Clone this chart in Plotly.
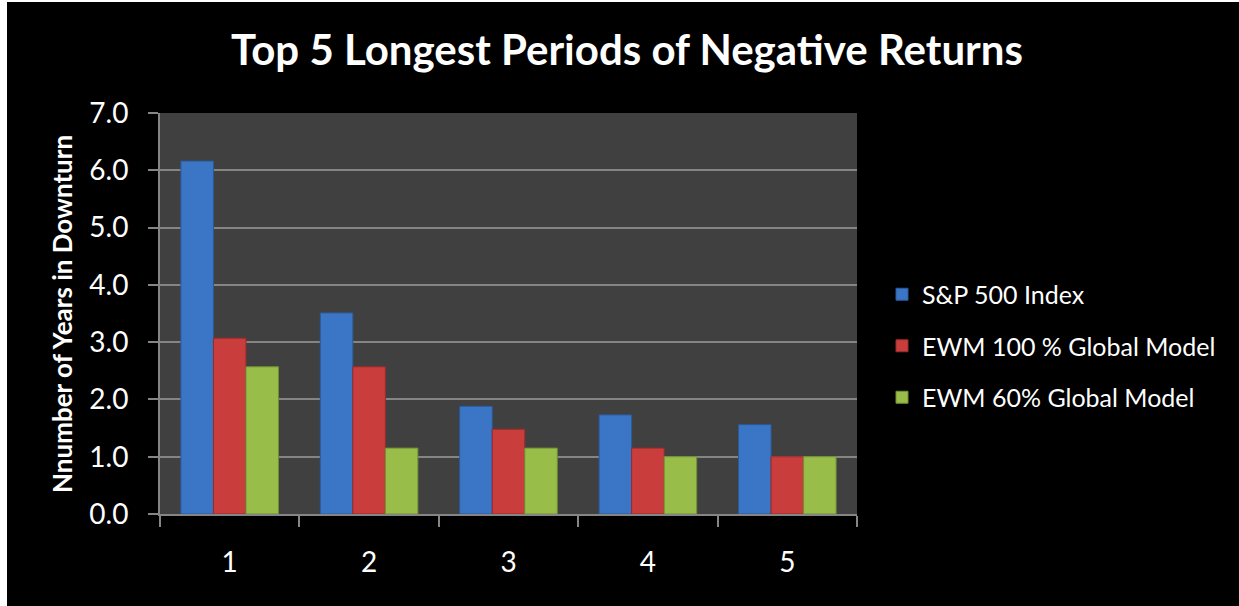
import plotly.graph_objects as go

categories = ["1", "2", "3", "4", "5"]
sp500 = [6.16, 3.51, 1.88, 1.73, 1.56]
ewm100 = [3.07, 2.57, 1.48, 1.15, 1.0]
ewm60 = [2.57, 1.15, 1.15, 1.0, 1.0]
series_names = ["S&P 500 Index", "EWM 100 % Global Model", "EWM 60% Global Model"]
colors = ["#3B76C6", "#C93D3C", "#98BD48"]
line_colors = ["#2A5A9A", "#9A2B2A", "#718F33"]

W, H = 1239, 606
L, R, T, B = 160, 382, 113, 92
PW = W - L - R
PH = H - T - B
FONT = "Lato"

fig = go.Figure()
for i, (name, vals) in enumerate(zip(series_names, [sp500, ewm100, ewm60])):
    fig.add_trace(go.Bar(
        x=categories, y=vals, name=name,
        marker=dict(color=colors[i], line=dict(color=line_colors[i], width=1)),
        legendgroup=f"g{i}",
    ))

fig.update_layout(
    width=W, height=H,
    margin=dict(l=L, r=R, t=T, b=B),
    paper_bgcolor="black",
    plot_bgcolor="#404040",
    barmode="group",
    bargap=0.30,
    bargroupgap=0.0,
    font=dict(family=FONT, color="white"),
    title=dict(
        text="<b>Top 5 Longest Periods of Negative Returns</b>",
        x=(627) / W, xanchor="center",
        y=1 - 50 / H, yanchor="middle",
        font=dict(family=FONT, size=42, color="white"),
    ),
    legend=dict(
        x=(882 - L) / PW, xanchor="left",
        y=1 - (346 - T) / PH, yanchor="middle",
        font=dict(family=FONT, size=25, color="white"),
        bgcolor="rgba(0,0,0,0)",
        tracegroupgap=16,
        traceorder="grouped",
    ),
    showlegend=True,
)

fig.update_yaxes(
    range=[0, 7], dtick=1, tickformat=".1f",
    showgrid=True, gridcolor="#858585", gridwidth=2,
    showline=True, linecolor="#858585", linewidth=2,
    ticks="outside", ticklen=10, tickwidth=2, tickcolor="#858585",
    tickfont=dict(family=FONT, size=28, color="white"),
    ticklabelstandoff=14,
    zeroline=False,
)
fig.update_xaxes(
    showgrid=False,
    showline=True, linecolor="#858585", linewidth=2,
    ticks="outside", ticklen=11, tickwidth=2, tickcolor="#858585",
    tickson="boundaries",
    tickfont=dict(family=FONT, size=28, color="white"),
    ticklabelstandoff=22,
)

fig.add_annotation(
    text="<b>Nnumber of Years in Downturn</b>",
    xref="paper", yref="paper",
    x=(62 - L) / PW, y=1 - (314 - T) / PH,
    xanchor="center", yanchor="middle",
    textangle=-90, showarrow=False,
    font=dict(family=FONT, size=26, color="white"),
)

# white frame strips on the left and top edge
fig.add_shape(type="rect", xref="paper", yref="paper",
              x0=-L / PW, x1=(7 - L) / PW, y0=-B / PH, y1=1 + T / PH,
              fillcolor="white", line=dict(width=0), layer="above")
fig.add_shape(type="rect", xref="paper", yref="paper",
              x0=-L / PW, x1=1 + R / PW, y0=1 + (T - 2) / PH, y1=1 + T / PH,
              fillcolor="white", line=dict(width=0), layer="above")

fig.write_html("out.html")
